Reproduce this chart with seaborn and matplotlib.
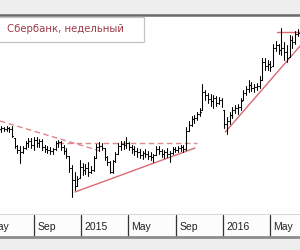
#%% import tools and libraries
import numpy as np
import pandas as pd
import seaborn as sb
import matplotlib.pyplot as plt
from matplotlib.patches import Rectangle

#%% weekly OHLC data (Сбербанк, weekly bars)
week_start = '2014-06-09'
n_weeks = 110
high = [87, 86.5, 87, 86.5, 87, 81, 77.5, 77, 77, 79.5,
        81, 81, 81.5, 81.5, 80.5, 80.5, 77.5, 77, 76.5, 76,
        79.5, 80, 79.5, 77.5, 76, 72, 67.5, 64, 62, 70,
        68.5, 68, 69, 67, 72, 78, 79, 78.5, 76, 72,
        69.5, 70, 74, 78.5, 79.5, 79.5, 81.5, 79, 77.5, 77,
        76, 75.5, 74.5, 75.5, 74.5, 74, 73, 77, 77, 75.5,
        75, 76, 74.5, 76.5, 76.5, 77, 77.5, 77.5, 86.5, 89.5,
        92, 92.5, 94, 96, 108, 105, 103.5, 103, 102.5, 102,
        101.5, 101, 95, 91.5, 94, 96.5, 97.5, 98, 101, 105,
        107, 110, 109, 108, 108.5, 112, 121, 121, 120, 119.5,
        128, 129.5, 128, 136, 129, 127.5, 132.5, 132, 134.5, 135.5]
low = [84, 84.5, 84.5, 84, 81.5, 76, 73.5, 68.5, 73.5, 75.5,
       76.5, 76, 75, 76.5, 76.5, 75, 74, 73.5, 73, 73,
       75, 76.5, 75, 73, 71, 64, 51.5, 55, 57, 61,
       62.5, 63, 62, 63.5, 64.5, 71, 74.5, 75, 70, 67.5,
       63.5, 63.5, 69, 73, 75, 75.5, 76, 75, 73.5, 72.5,
       71.5, 71, 70.5, 71.5, 70.5, 70, 69, 72.5, 73, 71.5,
       71, 71.5, 69, 73, 74, 74, 74.5, 74, 75, 84.5,
       87, 88.5, 90, 92, 95, 100, 98.5, 97, 96, 97,
       98, 96.5, 86, 83, 88, 91, 93.5, 93, 95, 100,
       102.5, 104, 104.5, 104, 105, 106, 110, 115, 115, 114.5,
       117, 124.5, 123, 122.5, 120, 119, 121.5, 126, 128, 132]
open_ = [85.5, 86, 85.5, 86, 85.5, 81, 77, 75, 74, 76,
         78.5, 79.5, 77.5, 80, 78.5, 79.5, 76.5, 75.5, 75, 74.5,
         75.5, 78.5, 79, 76.5, 74.5, 72, 66, 60, 57, 61,
         66.5, 65, 66, 64, 65, 71, 76.5, 77, 76, 71.5,
         69, 64, 69.5, 73, 77, 78, 77.5, 78.5, 76.5, 75.5,
         74.5, 74, 72.5, 73.5, 73, 72, 71.5, 72.5, 75.5, 74.5,
         73, 74, 73, 73.5, 75.5, 75, 76, 76.5, 75.5, 84.5,
         87.5, 90.5, 91, 93, 95, 104, 102.5, 100.5, 99.5, 101,
         98.5, 100, 95, 88, 89.5, 92.5, 95, 96, 96.5, 100,
         103.5, 105.5, 107.5, 106, 106.5, 107, 110, 119, 117, 118,
         117, 126, 127.5, 125, 126, 124, 121.5, 130, 129, 133]
close = [86, 85.5, 86, 85.5, 82, 77, 75, 74, 76, 78.5,
         79.5, 77.5, 80, 78.5, 79.5, 76.5, 75.5, 75, 74.5, 75.5,
         78.5, 79, 76.5, 74.5, 72, 66, 60, 57, 60.5, 66.5,
         65, 66, 64, 65, 71, 76.5, 77, 76, 71.5, 69,
         64, 69.5, 73, 77, 78, 77.5, 78.5, 76.5, 75.5, 74.5,
         74, 72.5, 73.5, 73, 72, 71.5, 72.5, 75.5, 74.5, 73,
         74, 73, 73.5, 75.5, 75, 76, 76.5, 75.5, 84.5, 87.5,
         90.5, 91, 93, 94, 104, 102.5, 100.5, 99.5, 101, 98.5,
         100, 98, 88, 89.5, 92.5, 95, 96, 96.5, 99.5, 103.5,
         105.5, 107.5, 106, 106.5, 107, 110, 119, 117, 118, 116.5,
         126, 127.5, 125, 126, 124, 121, 130, 129, 133, 133.5]

# trend lines drawn on the chart: (start date, start price, end date, end price, style)
tl_start = ['2014-06-06', '2014-11-02', '2014-12-16', '2016-01-07', '2016-05-20']
tl_end = ['2015-02-19', '2015-10-27', '2015-10-21', '2016-07-17', '2016-07-17']
tl_p0 = [89.5, 78.5, 54, 84, 134]
tl_p1 = [74.5, 78.5, 76, 127, 134]
tl_dashed = [True, True, False, False, False]

# time axis labels
label_dates = ['2014-05-01', '2014-09-01', '2015-01-01', '2015-05-01',
               '2015-09-01', '2016-01-01', '2016-05-01']
label_text = ['May', 'Sep', '2015', 'May', 'Sep', '2016', 'May']

title = 'Сбербанк, недельный'

#%% build long-form segments table for the bars
dates = pd.date_range(week_start, periods=n_weeks, freq='7D')
tick = pd.Timedelta(days=2.5)
rows = []
for i, d in enumerate(dates):
    rows += [(d, high[i], 3 * i), (d, low[i], 3 * i),
             (d - tick, open_[i], 3 * i + 1), (d, open_[i], 3 * i + 1),
             (d, close[i], 3 * i + 2), (d + tick, close[i], 3 * i + 2)]
df_bars = pd.DataFrame(rows, columns=['date', 'price', 'seg'])

tl_rows = []
for k in range(len(tl_start)):
    tl_rows += [(pd.Timestamp(tl_start[k]), tl_p0[k], k, tl_dashed[k]),
                (pd.Timestamp(tl_end[k]), tl_p1[k], k, tl_dashed[k])]
df_tl = pd.DataFrame(tl_rows, columns=['date', 'price', 'line', 'dashed'])

#%% plot
sb.set_theme(style='white')
plt.rcParams['font.family'] = ['DejaVu Sans']

fig = plt.figure(figsize=(3, 2.5), dpi=100, facecolor='#eeeeee')
ax = fig.add_axes([0, 0.14, 1, 0.8])
ax.set_facecolor('white')

red = '#d86a72'
for k, g in df_tl.groupby('line'):
    sb.lineplot(data=g, x='date', y='price', ax=ax, color=red, lw=1.0,
                linestyle=(0, (4, 2.5)) if g['dashed'].iloc[0] else '-',
                alpha=0.8 if g['dashed'].iloc[0] else 1)

sb.lineplot(data=df_bars, x='date', y='price', units='seg', estimator=None,
            sort=False, color='black', lw=0.75, ax=ax)

ax.set_xlim(pd.Timestamp('2014-06-06'), pd.Timestamp('2016-07-17'))
ax.set_ylim(42.5, 142.5)
ax.set_xticks([])
ax.set_yticks([])
ax.set_xlabel('')
ax.set_ylabel('')
for s in ['left', 'right']:
    ax.spines[s].set_visible(False)
ax.spines['top'].set_color('#6a6a6a')
ax.spines['top'].set_linewidth(1.8)
ax.spines['bottom'].set_color('#333333')
ax.spines['bottom'].set_linewidth(1)

# title box
ax.add_patch(Rectangle((-0.01, 0.865), 0.49, 0.125, transform=ax.transAxes,
                       facecolor='white', edgecolor='#c4c4c4', lw=0.9, zorder=5))
ax.text(0.024, 0.932, title, transform=ax.transAxes, color='#9e3a48',
        fontsize=7.3, va='center', ha='left', zorder=6)

# date label strip
axb = fig.add_axes([0, 0.052, 1, 0.088], sharex=ax)
axb.set_facecolor('#fcfcfc')
axb.set_xlim(pd.Timestamp('2014-06-06'), pd.Timestamp('2016-07-17'))
axb.set_ylim(0, 1)
axb.set_xticks([])
axb.set_yticks([])
for s in ['left', 'right', 'top']:
    axb.spines[s].set_visible(False)
axb.spines['bottom'].set_color('#8c8c8c')
axb.spines['bottom'].set_linewidth(2)
for d, t in zip(label_dates, label_text):
    axb.axvline(pd.Timestamp(d), color='#333333', lw=0.9)
    axb.annotate(t, (pd.Timestamp(d), 0.45), xycoords=('data', 'axes fraction'),
                 xytext=(2.5, 0), textcoords='offset points', va='center',
                 ha='left', fontsize=7.5, color='#222222',
                 family=['Liberation Sans'], annotation_clip=False)

fig.savefig('out.png', dpi=100, facecolor=fig.get_facecolor())
